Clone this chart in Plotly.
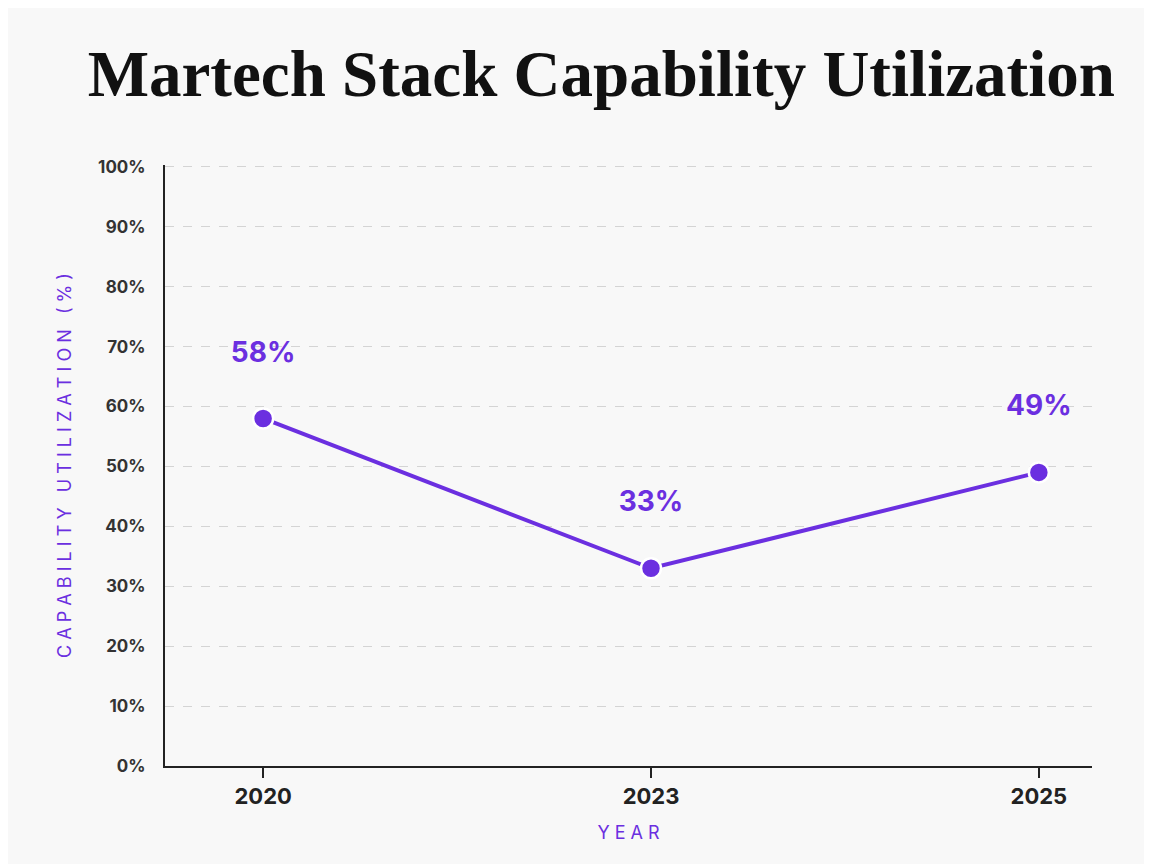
import plotly.graph_objects as go

years = ["2020", "2023", "2025"]
utilization = [58, 33, 49]
labels = ["58%", "33%", "49%"]
y_ticks = list(range(0, 101, 10))
y_tick_labels = [f"{v}%" for v in y_ticks]

purple = "#6B2FE0"
fig = go.Figure()
fig.add_trace(go.Scatter(
    x=years, y=utilization, mode="lines+markers+text",
    line=dict(color=purple, width=4),
    marker=dict(size=20, color=purple, line=dict(color="white", width=2.5)),
    text=[l + "<br> " for l in labels], textposition="top center",
    textfont=dict(family="Inter", size=28, color=purple, weight=700),
    cliponaxis=False, showlegend=False,
))
fig.update_layout(
    width=1152, height=864,
    paper_bgcolor="#f8f8f8", plot_bgcolor="#f8f8f8",
    margin=dict(l=157, r=68, t=157, b=106),
    title=dict(text="<b>Martech Stack Capability Utilization</b>",
               x=0.515, xanchor="center", y=0.925, yanchor="middle",
               font=dict(family="Liberation Serif", size=65, color="#111")),
    xaxis=dict(type="category", range=[-0.253, 2.137],
               showline=True, linecolor="#222", linewidth=2,
               ticks="outside", ticklen=10, tickcolor="#222", tickwidth=1.5,
               showgrid=False,
               tickfont=dict(family="Inter", size=22, color="#222", weight=700),
               title=dict(text="Y E A R", font=dict(family="Inter", size=18, color=purple), standoff=18)),
    yaxis=dict(range=[0, 100.3], tickvals=y_ticks, ticktext=y_tick_labels,
               showline=True, linecolor="#222", linewidth=2,
               gridcolor="#d4d4d4", griddash="dash", gridwidth=1,
               zeroline=False,
               tickfont=dict(family="Inter", size=17, color="#333", weight=700),
               ticklabelstandoff=14,
               title=dict(text="C A P A B I L I T Y   U T I L I Z A T I O N   ( % )",
                          font=dict(family="Inter", size=18, color=purple), standoff=22)),
)
fig.write_html("out.html")
